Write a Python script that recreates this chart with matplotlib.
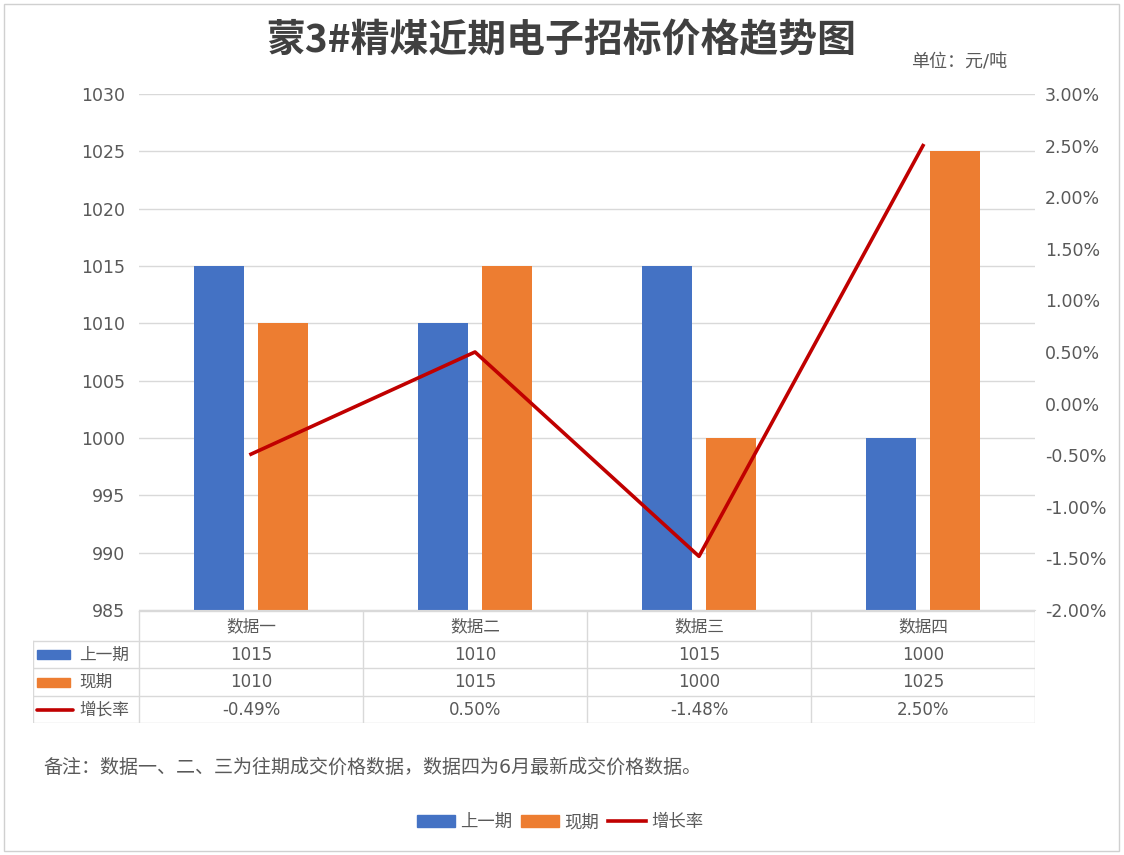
import numpy as np
import matplotlib.pyplot as plt
from matplotlib.patches import Patch, Rectangle
from matplotlib.lines import Line2D
from matplotlib.ticker import FuncFormatter

plt.rcParams['font.family'] = ['DejaVu Sans', 'Noto Sans CJK SC']

# data
categories = ['数据一', '数据二', '数据三', '数据四']
prev_price = [1015, 1010, 1015, 1000]
curr_price = [1010, 1015, 1000, 1025]
growth_pct = [-0.49, 0.50, -1.48, 2.50]
series_names = ['上一期', '现期', '增长率']

blue = '#4472C4'
orange = '#ED7D31'
red = '#C00000'
txt = '#595959'
grid = '#D9D9D9'

W, H = 1124, 855
fig = plt.figure(figsize=(W / 100, H / 100), dpi=100)

# chart border
fig.patches.append(Rectangle((4 / W, 4 / H), 1115 / W, 847 / H, transform=fig.transFigure,
                             fill=False, edgecolor='#D0D0D0', lw=1))

ax = fig.add_axes([139 / W, (H - 610) / H, 896 / W, 516 / H])
x = np.arange(len(categories))
bw = 0.223
off = 0.143
ax.bar(x - off, prev_price, bw, color=blue, zorder=2)
ax.bar(x + off, curr_price, bw, color=orange, zorder=2)
ax.set_ylim(985, 1030)
ax.set_yticks(np.arange(985, 1031, 5))
ax.set_xlim(-0.5, len(categories) - 0.5)
ax.set_xticks([])
ax.grid(axis='y', color=grid, lw=1, zorder=0)
for s in ['top', 'left', 'right']:
    ax.spines[s].set_visible(False)
ax.spines['bottom'].set_color(grid)
ax.tick_params(axis='y', length=0, labelsize=12.5, colors=txt, pad=10)

ax2 = ax.twinx()
ax2.plot(x, growth_pct, color=red, lw=2.6, zorder=3)
ax2.set_ylim(-2.0, 3.0)
ax2.set_yticks(np.arange(-2.0, 3.01, 0.5))
ax2.yaxis.set_major_formatter(FuncFormatter(lambda v, p: f'{v:.2f}%'))
ax2.tick_params(axis='y', length=0, labelsize=12.5, colors=txt, pad=7)
for s in ax2.spines.values():
    s.set_visible(False)

# data table
tax = fig.add_axes([33 / W, (H - 723) / H, 1002 / W, 112 / H])
lx = -0.5 - 106 / 224
tax.set_xlim(lx, len(categories) - 0.5)
tax.set_ylim(112, 0)
tax.axis('off')
rows = [0, 30, 57, 85, 112]
tax.plot([-0.5, len(categories) - 0.5], [0, 0], color=grid, lw=1)
for r in rows[1:]:
    tax.plot([lx, len(categories) - 0.5], [r, r], color=grid, lw=1)
for c in np.arange(len(categories) + 1) - 0.5:
    tax.plot([c, c], [0, 112], color=grid, lw=1)
tax.plot([lx, lx], [30, 112], color=grid, lw=1)

fs = 12
for i, cat in enumerate(categories):
    tax.text(i, 15, cat, ha='center', va='center', fontsize=fs, color=txt)
    tax.text(i, 43.5, str(prev_price[i]), ha='center', va='center', fontsize=fs, color=txt)
    tax.text(i, 71, str(curr_price[i]), ha='center', va='center', fontsize=fs, color=txt)
    tax.text(i, 98.5, f'{growth_pct[i]:.2f}%', ha='center', va='center', fontsize=fs, color=txt)

kx = lx + 4 / 224
kw = 33 / 224
tax.add_patch(Rectangle((kx, 39), kw, 9, color=blue))
tax.add_patch(Rectangle((kx, 66.5), kw, 9, color=orange))
tax.plot([kx, kx + 36 / 224], [98.5, 98.5], color=red, lw=2.6, solid_capstyle='round')
for name, r in zip(series_names, [43.5, 71, 98.5]):
    tax.text(lx + 46 / 224, r, name, ha='left', va='center', fontsize=fs, color=txt)

# titles and notes
fig.text(561 / W, 1 - 41 / H, '蒙3#精煤近期电子招标价格趋势图', ha='center', va='center',
         fontsize=28, fontweight='bold', color='#404040', family=['Noto Sans CJK SC'])
fig.text(1007 / W, 1 - 62 / H, '单位：元/吨', ha='right', va='center', fontsize=13, color=txt)
fig.text(43 / W, 1 - 767 / H, '备注：数据一、二、三为往期成交价格数据，数据四为6月最新成交价格数据。',
         ha='left', va='center', fontsize=13.7, color=txt)

handles = [Patch(color=blue, label=series_names[0]),
           Patch(color=orange, label=series_names[1]),
           Line2D([], [], color=red, lw=2.6, label=series_names[2])]
fig.legend(handles=handles, loc='center', bbox_to_anchor=(560 / W, 1 - 822 / H), ncol=3,
           frameon=False, fontsize=12.5, labelcolor=txt, handlelength=2.2, handleheight=0.75,
           handletextpad=0.3, columnspacing=0.5)

fig.savefig('out.png', dpi=100)
